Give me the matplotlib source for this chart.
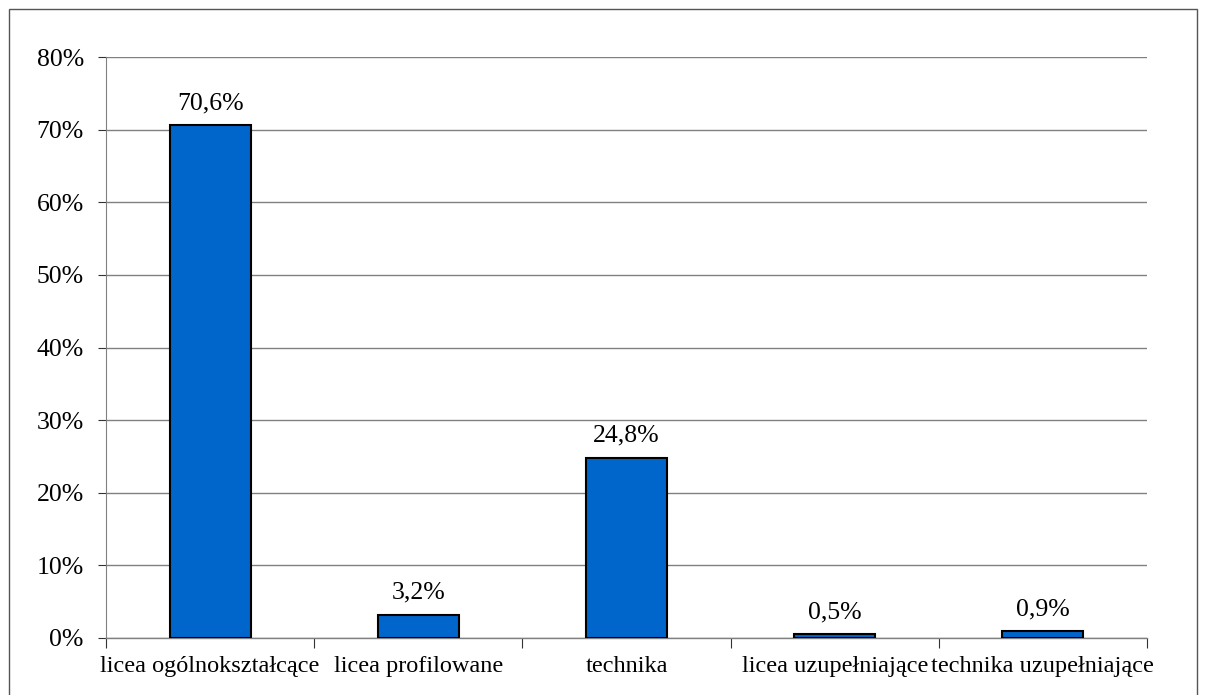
import matplotlib
matplotlib.use("Agg")
import matplotlib.pyplot as plt
from matplotlib.patches import Rectangle

categories = ["licea ogólnokształcące", "licea profilowane", "technika",
              "licea uzupełniające", "technika uzupełniające"]
values = [70.6, 3.2, 24.8, 0.5, 0.9]
labels = ["70,6%", "3,2%", "24,8%", "0,5%", "0,9%"]
yticks = [0, 10, 20, 30, 40, 50, 60, 70, 80]

plt.rcParams["font.family"] = ["Liberation Serif", "DejaVu Serif"]

fig = plt.figure(figsize=(12.07, 6.95), dpi=100)
ax = fig.add_axes([106 / 1207, 1 - 638 / 695, (1147 - 106) / 1207, (638 - 57) / 695])

pos = [i + 0.5 for i in range(len(values))]
ax.bar(pos, values, width=0.39, color="#0066CC", edgecolor="black", linewidth=1.5, zorder=3)
for x, v, lab in zip(pos, values, labels):
    ax.annotate(lab, (x, v), xytext=(0, 8), textcoords="offset points",
                ha="center", va="bottom", fontsize=18.5)

ax.set_xlim(0, len(values))
ax.set_ylim(0, 80)
ax.set_yticks(yticks)
ax.set_yticklabels([f"{t}%" for t in yticks], fontsize=18.5)
ax.set_xticks(range(len(values) + 1))
ax.set_xticklabels([])
ax.set_xticks(pos, minor=True)
ax.set_xticklabels(categories, minor=True, fontsize=17.5)
ax.tick_params(axis="x", which="minor", length=0, pad=13)
ax.tick_params(axis="x", which="major", length=7, direction="out", color="#333333")
ax.tick_params(axis="y", length=6, color="#333333", pad=10)

ax.grid(axis="y", color="#808080", linewidth=1, zorder=0)
for s in ["top", "right"]:
    ax.spines[s].set_visible(False)
ax.spines["left"].set_color("#808080")
ax.spines["bottom"].set_color("#808080")
ax.spines["bottom"].set_linewidth(1)

fig.patches.append(Rectangle((9 / 1207, -0.01), (1197 - 9) / 1207, 1 - 9 / 695 + 0.01,
                             transform=fig.transFigure, fill=False,
                             edgecolor="#555555", linewidth=1))

fig.savefig("out.png", dpi=100)
